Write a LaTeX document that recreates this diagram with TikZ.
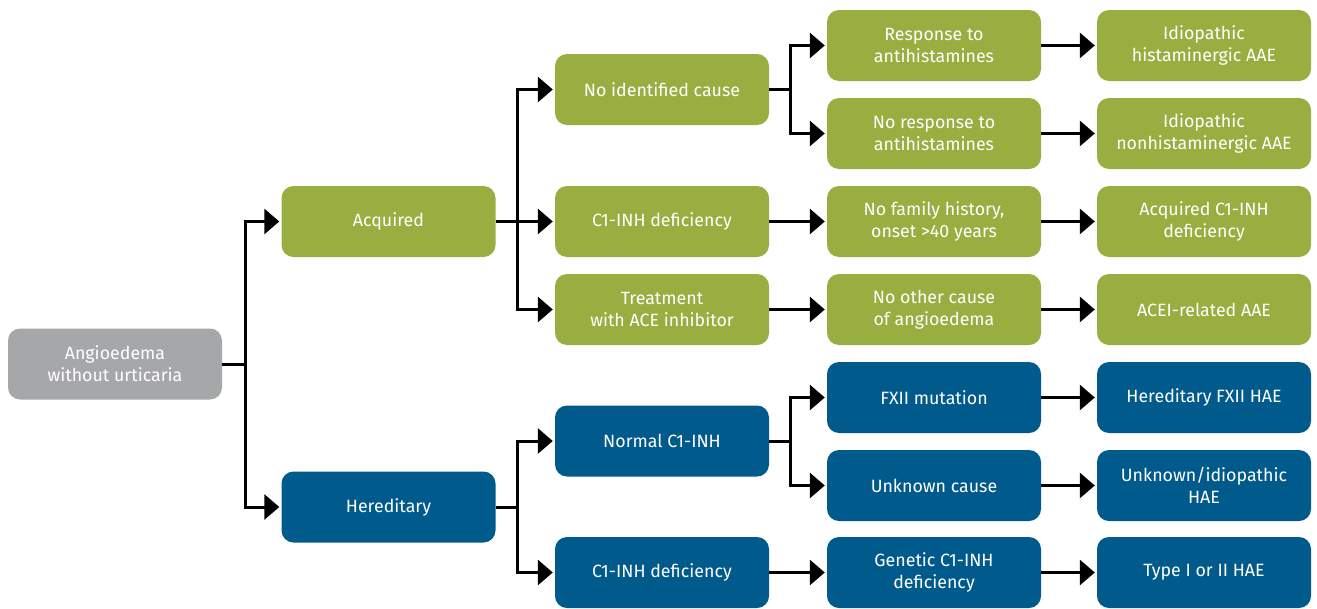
\documentclass[tikz,border=0pt]{standalone}
\usepackage{fontspec}
\setmainfont{Fira Sans}
\usetikzlibrary{arrows.meta,positioning}
\definecolor{agreen}{HTML}{98AE40}
\definecolor{hblue}{HTML}{005A8C}
\definecolor{rgray}{HTML}{A6A7A9}
\begin{document}
\begin{tikzpicture}[x=1pt,y=-1pt,
  box/.style={rounded corners=12pt, minimum width=214pt, minimum height=71pt, inner sep=2pt,
    text=white, align=center, font=\fontsize{17.8}{22}\selectfont},
  gbox/.style={box, fill=agreen},
  bbox/.style={box, fill=hblue},
  rbox/.style={box, fill=rgray},
  conn/.style={line width=3pt, -{Triangle[length=15pt,width=25pt]}, shorten >=2pt}
]
\useasboundingbox (0,0) rectangle (1317,608);
\node[rbox] (root) at (115,364) {Angioedema\\without urticaria};
\node[gbox] (acq) at (388.5,221.5) {Acquired};
\node[bbox] (her) at (388.5,507) {Hereditary};

\node[gbox] (nic) at (662,89.5) {No identified cause};
\node[gbox] (c1a) at (662,221.5) {C1-INH deficiency};
\node[gbox] (ace) at (662,309.5) {Treatment\\with ACE inhibitor};
\node[bbox] (norm) at (662,441) {Normal C1-INH};
\node[bbox] (c1h) at (662,572.5) {C1-INH deficiency};

\node[gbox] (resp) at (934,45.5) {Response to\\antihistamines};
\node[gbox] (noresp) at (934,133.5) {No response to\\antihistamines};
\node[gbox] (nofam) at (934,221.5) {No family history,\\onset >40 years};
\node[gbox] (noother) at (934,309.5) {No other cause\\of angioedema};
\node[bbox] (fxii) at (934,397.5) {FXII mutation};
\node[bbox] (unk) at (934,485.5) {Unknown cause};
\node[bbox] (gen) at (934,572.5) {Genetic C1-INH\\deficiency};

\node[gbox] (ihist) at (1204,45.5) {Idiopathic\\histaminergic AAE};
\node[gbox] (inon) at (1204,133.5) {Idiopathic\\nonhistaminergic AAE};
\node[gbox] (acqc1) at (1204,221.5) {Acquired C1-INH\\deficiency};
\node[gbox] (acei) at (1204,309.5) {ACEI-related AAE};
\node[bbox] (hfxii) at (1204,397.5) {Hereditary FXII HAE};
\node[bbox] (uih) at (1204,485.5) {Unknown/idiopathic\\HAE};
\node[bbox] (type) at (1204,572.5) {Type I or II HAE};

\draw[conn] (root.east) -- ++(23,0) |- (acq.west);
\draw[conn] (root.east) -- ++(23,0) |- (her.west);

\draw[conn] (acq.east) -- ++(22,0) |- (nic.west);
\draw[conn] (acq.east) -- (c1a.west);
\draw[conn] (acq.east) -- ++(22,0) |- (ace.west);

\draw[conn] (her.east) -- ++(22,0) |- (norm.west);
\draw[conn] (her.east) -- ++(22,0) |- (c1h.west);

\draw[conn] (nic.east) -- ++(21,0) |- (resp.west);
\draw[conn] (nic.east) -- ++(21,0) |- (noresp.west);
\draw[conn] (c1a.east) -- (nofam.west);
\draw[conn] (ace.east) -- (noother.west);
\draw[conn] (norm.east) -- ++(21,0) |- (fxii.west);
\draw[conn] (norm.east) -- ++(21,0) |- (unk.west);
\draw[conn] (c1h.east) -- (gen.west);

\draw[conn] (resp.east) -- (ihist.west);
\draw[conn] (noresp.east) -- (inon.west);
\draw[conn] (nofam.east) -- (acqc1.west);
\draw[conn] (noother.east) -- (acei.west);
\draw[conn] (fxii.east) -- (hfxii.west);
\draw[conn] (unk.east) -- (uih.west);
\draw[conn] (gen.east) -- (type.west);
\end{tikzpicture}
\end{document}
